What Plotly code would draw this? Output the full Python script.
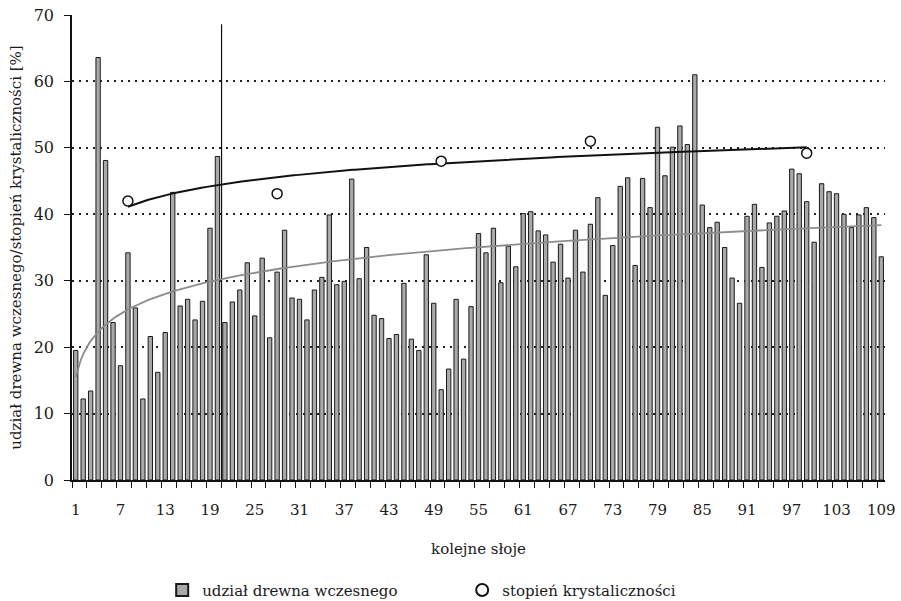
import numpy as np
import plotly.graph_objects as go

# Earlywood share per annual ring [%]
rings = list(range(1, 110))
earlywood = [
    19.5, 12.2, 13.4, 63.6, 48.1, 23.7, 17.2, 34.2, 25.9, 12.2,
    21.6, 16.2, 22.2, 43.3, 26.2, 27.2, 24.1, 26.9, 37.9, 48.7,
    23.7, 26.8, 28.6, 32.7, 24.7, 33.4, 21.4, 31.3, 37.6, 27.4,
    27.2, 24.1, 28.6, 30.5, 39.9, 29.4, 29.9, 45.3, 30.3, 35.0,
    24.8, 24.3, 21.3, 21.9, 29.6, 21.2, 19.5, 33.9, 26.6, 13.6,
    16.7, 27.2, 18.2, 26.1, 37.1, 34.2, 37.9, 29.7, 35.2, 32.1,
    40.1, 40.4, 37.5, 36.9, 32.8, 35.5, 30.4, 37.6, 31.3, 38.5,
    42.5, 27.8, 35.3, 44.2, 45.5, 32.3, 45.4, 41.0, 53.1, 45.8,
    50.1, 53.3, 50.5, 61.0, 41.4, 38.0, 38.8, 35.0, 30.4, 26.6,
    39.7, 41.5, 32.0, 38.7, 39.7, 40.5, 46.8, 46.1, 41.9, 35.8,
    44.6, 43.4, 43.1, 40.0, 38.0, 39.9, 41.0, 39.5, 33.6,
]

# Crystallinity degree measured on selected rings [%]
cryst_rings = [8, 28, 50, 70, 99]
crystallinity = [42.0, 43.1, 48.0, 51.0, 49.2]

# Single thin spike drawn next to ring 20
spike_x = [20.55]
spike_top = [68.6]

tick_rings = list(range(1, 110, 6))

FONT = "DejaVu Serif"
FS = 15


def log_trend(x, y, x_from, x_to):
    a, b = np.polyfit(np.log(np.asarray(x, float)), np.asarray(y, float), 1)
    xs = np.linspace(x_from, x_to, 300)
    return xs, a * np.log(xs) + b


fig = go.Figure()

fig.add_trace(go.Bar(
    x=rings, y=earlywood, name="udział drewna wczesnego",
    marker=dict(color="#a9a9a9", line=dict(color="#1a1a1a", width=1)),
))

fig.add_trace(go.Scatter(
    x=[spike_x[0], spike_x[0]], y=[0, spike_top[0]], mode="lines",
    line=dict(color="#111111", width=1.2), showlegend=False, hoverinfo="skip",
))

gx, gy = log_trend(rings, earlywood, 1, 109)
fig.add_trace(go.Scatter(
    x=gx, y=gy, mode="lines", line=dict(color="#8c8c8c", width=1.8),
    showlegend=False, hoverinfo="skip",
))

bx, by = log_trend(cryst_rings, crystallinity, cryst_rings[0], cryst_rings[-1])
fig.add_trace(go.Scatter(
    x=bx, y=by, mode="lines", line=dict(color="#111111", width=2),
    showlegend=False, hoverinfo="skip",
))

fig.add_trace(go.Scatter(
    x=cryst_rings, y=crystallinity, mode="markers", name="stopień krystaliczności",
    marker=dict(symbol="circle", size=10, color="white",
                line=dict(color="#111111", width=1.5)),
))

fig.update_layout(
    template="none",
    width=901, height=601,
    margin=dict(l=72, r=16, t=15, b=121, autoexpand=False),
    paper_bgcolor="white", plot_bgcolor="white",
    bargap=0.42,
    font=dict(family=FONT, size=FS, color="#1a1a1a"),
    legend=dict(
        orientation="h", xref="container", x=0.18, xanchor="left",
        yref="container", y=0.018, yanchor="middle",
        font=dict(family=FONT, size=FS), itemwidth=30,
        entrywidth=255, entrywidthmode="pixels", itemsizing="constant",
        traceorder="normal", bgcolor="rgba(0,0,0,0)",
    ),
)

fig.update_xaxes(
    automargin=False,
    range=[0.5, 109.5], tickmode="array", tickvals=tick_rings,
    ticktext=[str(t) for t in tick_rings],
    showgrid=False, zeroline=False, showline=True, linecolor="#111111", linewidth=1.5,
    ticks="outside", ticklen=0, ticklabelstandoff=15,
    tickfont=dict(family=FONT, size=FS),
    minor=dict(tickmode="linear", tick0=0.5, dtick=2, ticks="outside",
               ticklen=6, tickcolor="#111111", tickwidth=1.2, showgrid=False),
    title=dict(text="kolejne słoje", font=dict(family=FONT, size=FS), standoff=26),
)

fig.update_yaxes(
    automargin=False,
    range=[0, 70], tickmode="linear", tick0=0, dtick=10,
    showgrid=True, gridcolor="#222222", gridwidth=1.5, griddash="2px,5px",
    zeroline=False, showline=True, linecolor="#111111", linewidth=1.5,
    ticks="outside", ticklen=6, tickcolor="#111111", tickwidth=1.2,
    ticklabelstandoff=7,
    tickfont=dict(family=FONT, size=FS + 1),
    title=dict(text="udział drewna wczesnego/stopień krystaliczności [%]",
               font=dict(family=FONT, size=FS), standoff=8),
)

fig.write_html("out.html")
